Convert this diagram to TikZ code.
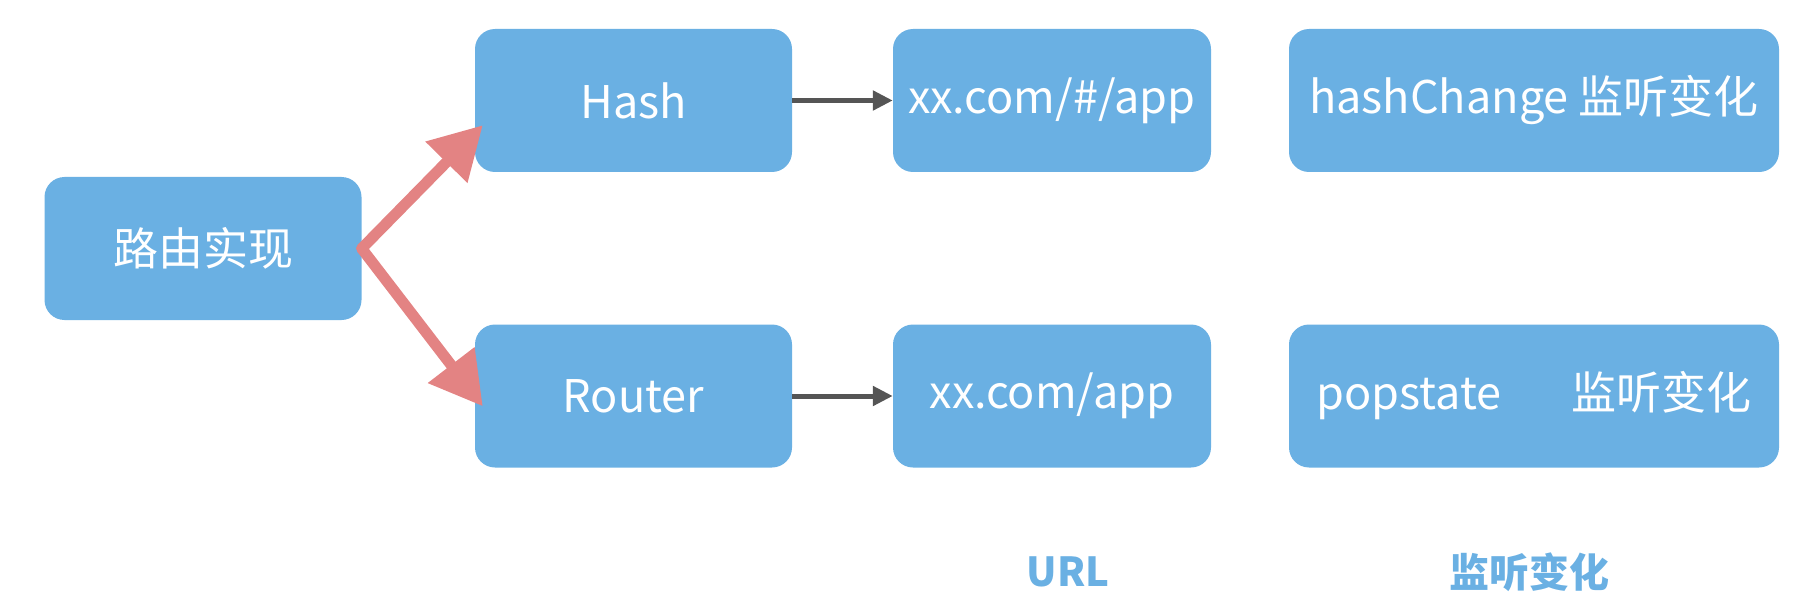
\documentclass[tikz,border=0pt]{standalone}
\usepackage{fontspec}
\setmainfont{Noto Sans CJK SC}
\usetikzlibrary{arrows.meta}
\definecolor{boxblue}{HTML}{6AB0E3}
\definecolor{arrred}{HTML}{E38383}
\definecolor{arrgray}{HTML}{555555}
\tikzset{
  box/.style={rectangle, rounded corners=20pt, fill=boxblue, text=white, inner sep=0pt,
    minimum height=143pt, font=\fontsize{45}{50}\selectfont},
  redarrow/.style={draw=arrred, line width=11pt, line cap=round, -{Triangle[width=56pt,length=52pt]}},
  grayarrow/.style={draw=arrgray, line width=5pt, -{Triangle[width=19pt,length=20pt]}},
  caption/.style={text=boxblue, font=\fontsize{40}{46}\selectfont\bfseries}
}
\begin{document}
\begin{tikzpicture}[x=1pt,y=-1pt]
\useasboundingbox (0,0) rectangle (1814,604);
\node[box, minimum width=317pt] (root) at (203,248.5) {路由实现};
\node[box, minimum width=317pt] (hash) at (633.5,100.5) {Hash};
\node[box, minimum width=317pt] (router) at (633.5,396) {Router};
\node[box, minimum width=318pt] (url1) at (1052,100.5) {xx.com/\#/app};
\node[box, minimum width=318pt] (url2) at (1052,396) {xx.com/app};
\node[box, minimum width=490pt] (lis1) at (1534,100.5) {hashChange 监听变化};
\node[box, minimum width=490pt] (lis2) at (1534,396) {popstate\hspace{70pt}监听变化};
\node[caption] (cap1) at (1068,572) {URL};
\node[caption] (cap2) at (1529,572) {监听变化};
\draw[redarrow] (root.east) -- ([xshift=8pt,yshift=47pt]hash.south west);
\draw[redarrow] (root.east) -- ([xshift=8pt,yshift=-82pt]router.north west);
\draw[grayarrow] (hash.east) -- (url1.west);
\draw[grayarrow] (router.east) -- (url2.west);
\end{tikzpicture}
\end{document}
